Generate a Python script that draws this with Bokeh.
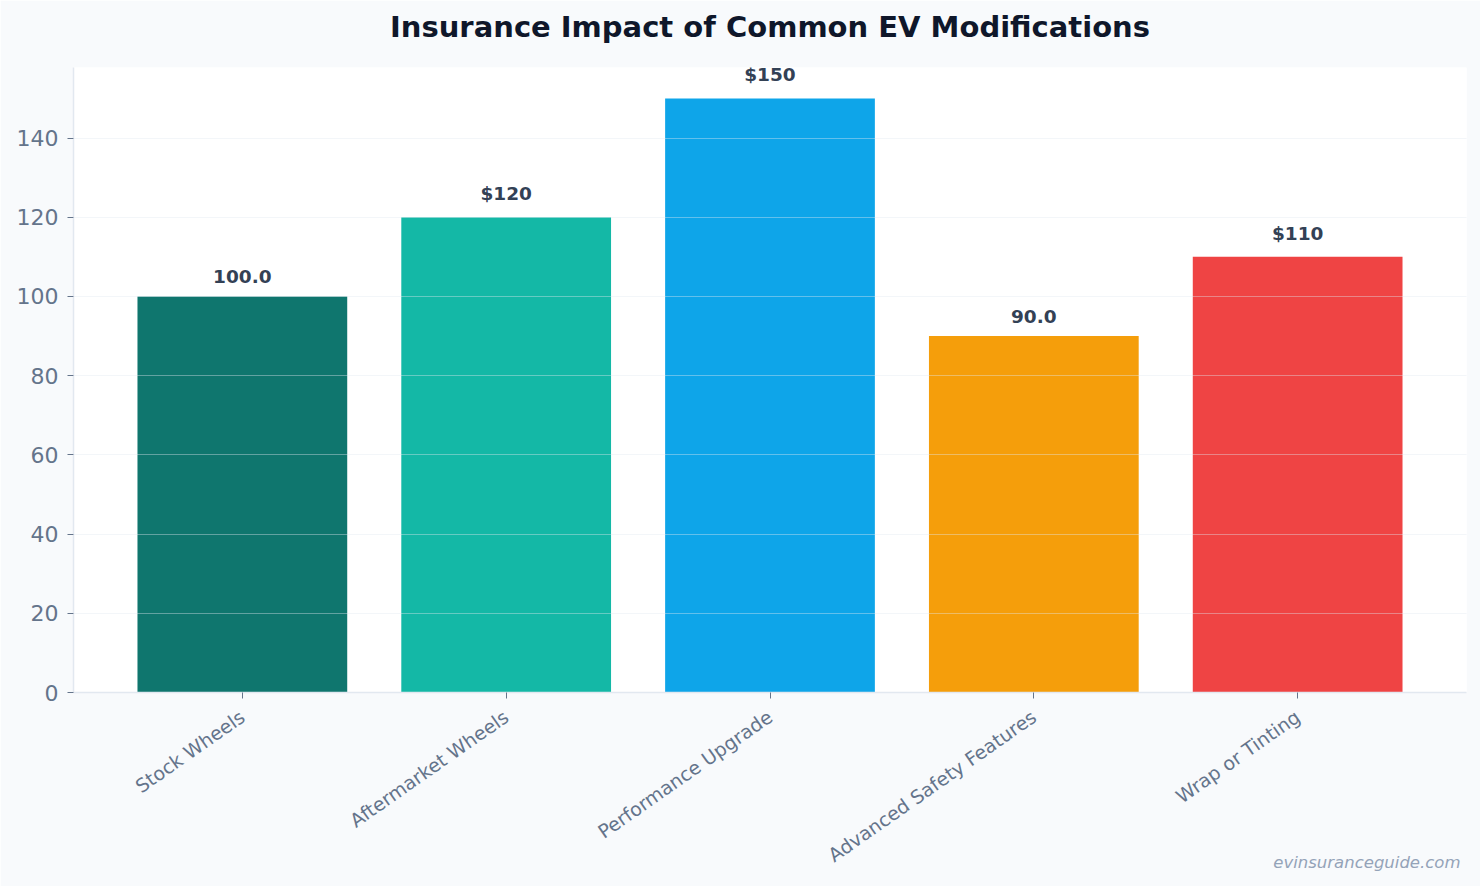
import math
from bokeh.plotting import figure
from bokeh.models import Range1d, Title, LabelSet, ColumnDataSource, FixedTicker
from bokeh.embed import file_html
from bokeh.resources import INLINE
from bokeh.core.properties import value

# Data
categories = ["Stock Wheels", "Aftermarket Wheels", "Performance Upgrade",
              "Advanced Safety Features", "Wrap or Tinting"]
premiums = [100, 120, 150, 90, 110]
value_labels = ["100.0", "$120", "$150", "90.0", "$110"]
bar_colors = ["#0f766e", "#14b8a6", "#0ea5e9", "#f59e0b", "#ef4444"]

FONT = "DejaVu Sans"

xs = list(range(len(categories)))
src = ColumnDataSource(dict(x=xs, top=premiums, color=bar_colors, label=value_labels))

p = figure(width=1480, height=886, output_backend="svg", toolbar_location=None,
           x_range=Range1d(-0.64, len(categories) - 1 + 0.64),
           y_range=Range1d(0, 157.8),
           min_border_left=73, min_border_right=14, min_border_top=67,
           min_border_bottom=194)

p.background_fill_color = "#ffffff"
p.border_fill_color = "#f8fafc"
p.outline_line_color = None

# a thin spacer keeps the heading clear of the plot area
p.add_layout(Title(text=" ", text_font_size="1px", standoff=14), "above")
p.add_layout(Title(text="Insurance Impact of Common EV Modifications",
                   align="center", text_font=FONT, text_font_size="29px",
                   text_font_style="bold", text_color="#0f172a", standoff=14),
             "above")

p.vbar(x="x", top="top", width=0.795, color="color", line_color=None, source=src)

p.add_layout(LabelSet(x="x", y="top", text="label", source=src, text_align="center",
                      text_baseline="bottom", y_offset=13, text_font=value(FONT),
                      text_font_size="18.5px", text_font_style="bold",
                      text_color="#334155"))

# grid drawn over the bars, faint
p.xgrid.grid_line_color = None
p.ygrid.grid_line_color = "#e2e8f0"
p.ygrid.grid_line_alpha = 0.4
p.ygrid.level = "overlay"
p.yaxis.ticker = FixedTicker(ticks=[0, 20, 40, 60, 80, 100, 120, 140])
p.ygrid.ticker = FixedTicker(ticks=[20, 40, 60, 80, 100, 120, 140])

p.xaxis.ticker = FixedTicker(ticks=xs)
p.xaxis.major_label_overrides = {i: c for i, c in enumerate(categories)}
p.xaxis.major_label_orientation = math.radians(35)

for ax in (p.xaxis, p.yaxis):
    ax.axis_line_color = "#e2e8f0"
    ax.axis_line_width = 1.5
    ax.major_tick_line_color = "#64748b"
    ax.major_tick_in = 0
    ax.major_tick_out = 6
    ax.minor_tick_line_color = None
    ax.major_label_text_font = FONT
    ax.major_label_text_color = "#64748b"

p.yaxis.major_label_text_font_size = "22px"
p.xaxis.major_label_text_font_size = "19px"
p.xaxis.major_label_standoff = 16
p.yaxis.major_label_standoff = 9

# site credit tucked under the right end of the axis labels
p.add_layout(Title(text="evinsuranceguide.com", align="right", vertical_align="top",
                   offset=6, standoff=-50, text_font=FONT, text_font_size="16.5px",
                   text_font_style="italic", text_color="#94a3b8"), "below")

open("out.html", "w").write(file_html(p, INLINE))
